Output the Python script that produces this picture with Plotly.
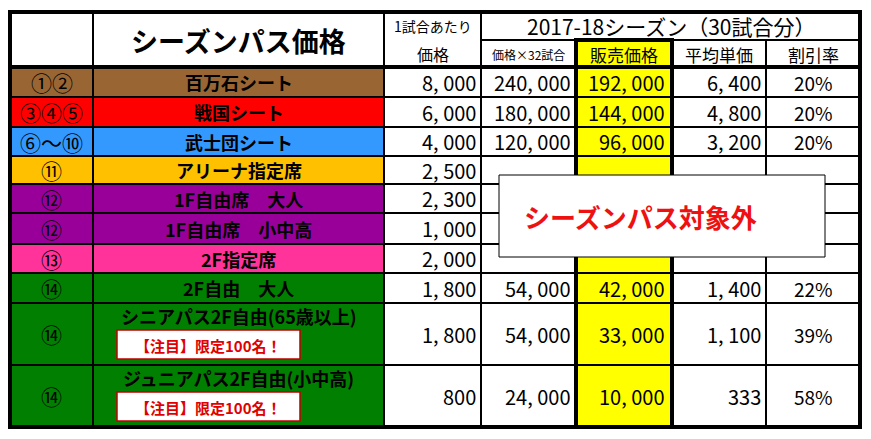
import plotly.graph_objects as go

# table data
seat_no = ["①②", "③④⑤", "⑥～⑩", "⑪", "⑫", "⑫", "⑬", "⑭", "⑭", "⑭"]
seat_name = ["百万石シート", "戦国シート", "武士団シート", "アリーナ指定席", "1F自由席　大人",
             "1F自由席　小中高", "2F指定席", "2F自由　大人",
             "シニアパス2F自由(65歳以上)", "ジュニアパス2F自由(小中高)"]
seat_color = ["#996633", "#ff0000", "#3399ff", "#ffc000", "#990099",
              "#990099", "#ff3399", "#007f00", "#007f00", "#007f00"]
price = ["8, 000", "6, 000", "4, 000", "2, 500", "2, 300", "1, 000", "2, 000", "1, 800", "1, 800", "800"]
price_x32 = ["240, 000", "180, 000", "120, 000", "", "", "", "", "54, 000", "54, 000", "24, 000"]
sale_price = ["192, 000", "144, 000", "96, 000", "", "", "", "", "42, 000", "33, 000", "10, 000"]
avg_price = ["6, 400", "4, 800", "3, 200", "", "", "", "", "1, 400", "1, 100", "333"]
discount = ["20%", "20%", "20%", "", "", "", "", "22%", "39%", "58%"]
note_rows = [8, 9]
note_text = "【注目】限定100名！"

# layout geometry (pixels)
W, H = 871, 439
OFF = 8  # page body margin
cols = [10, 93, 384, 481, 576, 672, 766, 860]
top, head_mid, head_bot = 12, 40, 67
row_edges = [67, 97, 127, 156, 184, 213, 244, 273, 303, 365, 427]
FONT = "Noto Sans CJK JP"

shapes, ann = [], []


def rect(x0, y0, x1, y1, fill, lw=2, color="black"):
    shapes.append(dict(type="rect", xref="x", yref="y", x0=x0, x1=x1, y0=y0, y1=y1,
                       fillcolor=fill, line=dict(color=color, width=lw), layer="below"))


def text(x, y, s, size=17, color="black", anchor="center", bold=False):
    if bold:
        s = "<b>" + s + "</b>"
    ann.append(dict(x=x, y=y, xref="x", yref="y", text=s, showarrow=False, xanchor=anchor,
                    yanchor="middle", font=dict(family=FONT, size=size, color=color)))


# header
rect(cols[0], top, cols[1], head_bot, "white")
rect(cols[1], top, cols[2], head_bot, "white")
rect(cols[2], top, cols[3], head_bot, "white")
rect(cols[3], top, cols[7], head_mid, "white")
for i in range(3, 7):
    rect(cols[i], head_mid, cols[i + 1], head_bot, "#ffff00" if i == 4 else "white")
text((cols[1] + cols[2]) / 2, 40, "シーズンパス価格", size=27, bold=True)
text((cols[2] + cols[3]) / 2, 26, "1試合あたり", size=14)
text((cols[2] + cols[3]) / 2, 54, "価格", size=16)
text((cols[3] + cols[7]) / 2, 26, "2017-18シーズン（30試合分）", size=21)
text((cols[3] + cols[4]) / 2, 54, "価格×32試合", size=12)
text((cols[4] + cols[5]) / 2, 54, "販売価格", size=17)
text((cols[5] + cols[6]) / 2, 54, "平均単価", size=17)
text((cols[6] + cols[7]) / 2, 54, "割引率", size=17)

for r in range(len(seat_no)):
    y0, y1 = row_edges[r], row_edges[r + 1]
    ym = (y0 + y1) / 2
    rect(cols[0], y0, cols[1], y1, seat_color[r])
    rect(cols[1], y0, cols[2], y1, seat_color[r])
    for i in range(2, 7):
        rect(cols[i], y0, cols[i + 1], y1, "#ffff00" if i == 4 else "white")
    text((cols[0] + cols[1]) / 2, ym, seat_no[r], size=21)
    if r in note_rows:
        text((cols[1] + cols[2]) / 2, y0 + 13, seat_name[r], size=18, bold=True)
        rect(117, y1 - 35, 300, y1 - 6, "white", lw=1.5, color="#c00000")
        text(208, y1 - 20, note_text, size=15, color="#e00000", bold=True)
    else:
        text((cols[1] + cols[2]) / 2, ym, seat_name[r], size=18, bold=True)
    text(cols[3] - 3, ym, price[r], size=20, anchor="right")
    text(cols[4] - 3, ym, price_x32[r], size=20, anchor="right")
    text(cols[5] - 5, ym, sale_price[r], size=20, anchor="right")
    text(cols[6] - 3, ym, avg_price[r], size=20, anchor="right")
    text((cols[6] + cols[7]) / 2, ym, discount[r], size=19)

# thick borders: sale column and outer frame
shapes.append(dict(type="rect", xref="x", yref="y", x0=cols[4], x1=cols[5], y0=head_mid, y1=row_edges[-1],
                   line=dict(color="black", width=4), layer="above"))
shapes.append(dict(type="rect", xref="x", yref="y", x0=cols[0], x1=cols[7], y0=top, y1=row_edges[-1],
                   line=dict(color="black", width=4), layer="above"))
shapes.append(dict(type="line", xref="x", yref="y", x0=cols[0], x1=cols[7], y0=head_bot, y1=head_bot,
                   line=dict(color="black", width=4), layer="above"))
# overlay box
shapes.append(dict(type="rect", xref="x", yref="y", x0=499, x1=825, y0=175, y1=257,
                   fillcolor="white", line=dict(color="black", width=1), layer="above"))
ann.append(dict(x=640, y=216, xref="x", yref="y", text="<b>シーズンパス対象外</b>", showarrow=False,
                font=dict(family=FONT, size=26, color="#ee1111")))

fig = go.Figure()
fig.add_trace(go.Scatter(x=[0, W], y=[0, H], mode="markers", marker=dict(opacity=0), hoverinfo="skip"))
fig.update_layout(
    width=W, height=H, margin=dict(l=0, r=0, t=0, b=0),
    plot_bgcolor="white", paper_bgcolor="white", showlegend=False,
    shapes=shapes, annotations=ann,
    xaxis=dict(range=[OFF, W + OFF], visible=False, fixedrange=True),
    yaxis=dict(range=[H + OFF, OFF], visible=False, fixedrange=True),
)
fig.write_html("out.html")
